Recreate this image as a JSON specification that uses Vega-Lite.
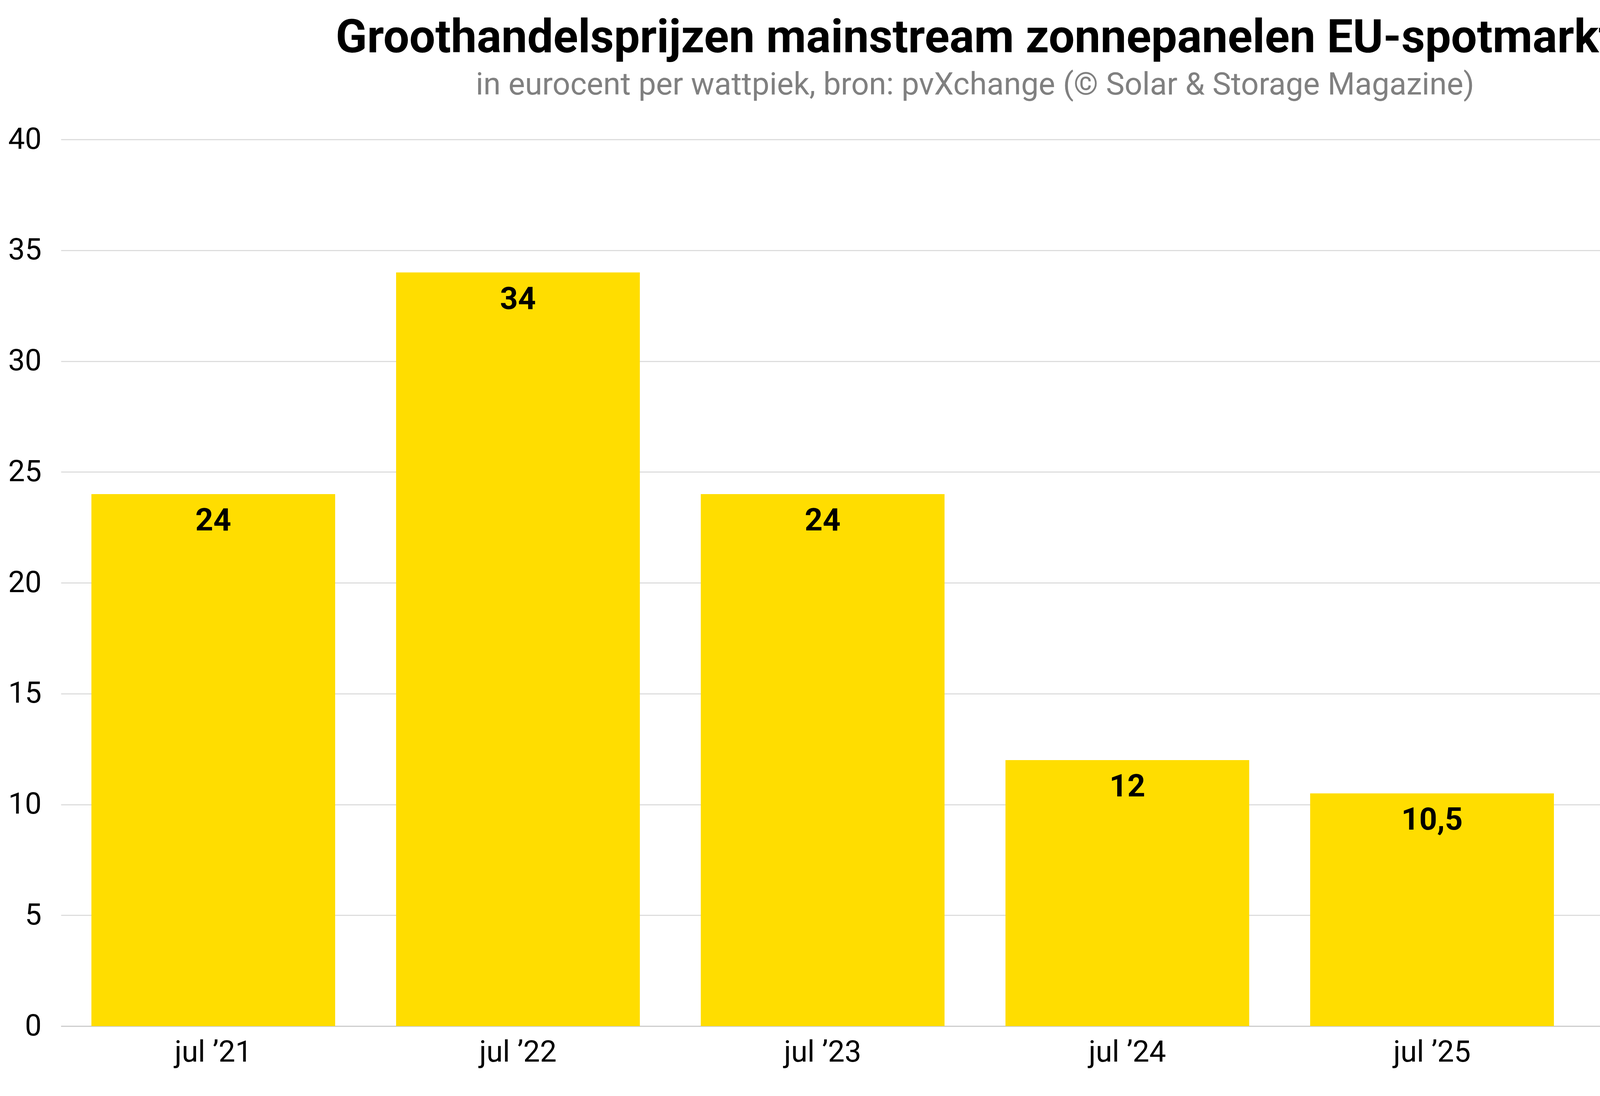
{
  "$schema": "https://vega.github.io/schema/vega-lite/v6.json",
  "width": 4680,
  "height": 2270,
  "padding": {"left": 20, "right": 30, "top": 40, "bottom": 20},
  "background": "white",
  "config": {"font": "Roboto", "view": {"stroke": null}},
  "title": {
    "text": "Groothandelsprijzen mainstream zonnepanelen EU-spotmarkt",
    "subtitle": "in eurocent per wattpiek, bron: pvXchange (© Solar & Storage Magazine)",
    "fontSize": 118,
    "fontWeight": "bold",
    "color": "#000000",
    "subtitleFontSize": 80,
    "subtitleColor": "#808080",
    "subtitlePadding": 20,
    "anchor": "middle",
    "offset": 60
  },
  "data": {
    "values": [
      {"periode": "jul ’21", "prijs": 24, "label": "24"},
      {"periode": "jul ’22", "prijs": 34, "label": "34"},
      {"periode": "jul ’23", "prijs": 24, "label": "24"},
      {"periode": "jul ’24", "prijs": 12, "label": "12"},
      {"periode": "jul ’25", "prijs": 10.5, "label": "10,5"},
      {"periode": "jul ’26", "prijs": 13.5, "label": "13,5"}
    ]
  },
  "encoding": {
    "x": {
      "field": "periode",
      "type": "nominal",
      "sort": null,
      "title": null,
      "scale": {"paddingInner": 0.2, "paddingOuter": 0.1},
      "axis": {
        "labelAngle": 0,
        "labelFontSize": 76,
        "labelLimit": 0,
        "labelColor": "#000000",
        "labelPadding": 30,
        "domainColor": "#cccccc",
        "domainWidth": 3,
        "ticks": false
      }
    },
    "y": {
      "field": "prijs",
      "type": "quantitative",
      "title": null,
      "scale": {"domain": [0, 40]},
      "axis": {
        "values": [0, 5, 10, 15, 20, 25, 30, 35, 40],
        "labelFontSize": 76,
        "labelColor": "#000000",
        "labelPadding": 50,
        "domain": false,
        "ticks": false,
        "gridColor": "#dddddd",
        "gridWidth": 3
      }
    }
  },
  "layer": [
    {"mark": {"type": "bar", "color": "#FFDD00"}},
    {
      "mark": {
        "type": "text",
        "baseline": "top",
        "dy": 30,
        "fontSize": 80,
        "fontWeight": "bold",
        "color": "#000000"
      },
      "encoding": {"text": {"field": "label"}}
    }
  ]
}
